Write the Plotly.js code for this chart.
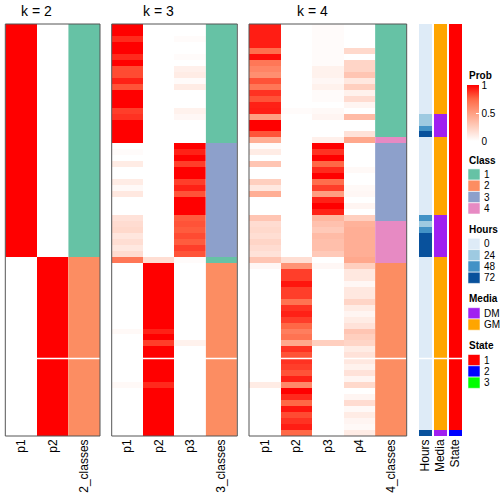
<!DOCTYPE html>
<html><head><meta charset="utf-8">
<script src="https://cdn.plot.ly/plotly-3.0.1.min.js"></script>
<style>html,body{margin:0;padding:0;background:#fff}#chart{width:504px;height:504px}</style>
</head><body><div id="chart"></div>
<script>
// ---------- data ----------
const k2_cols = ['p1','p2','2_classes'];
const k3_cols = ['p1','p2','p3','3_classes'];
const k4_cols = ['p1','p2','p3','p4','4_classes'];
const annoCols = ['Hours','Media','State'];

const k2_p1 = [1,1,1,1,1,1,1,1,1,1, 1,1,1,1,1,1,1,1,1,1, 1,1,1,1,1,1,1,1,1,1, 1,1,1,1,1,1,1,1,1,0, 0,0,0,0,0,0,0,0,0,0, 0,0,0,0,0,0,0,0,0,0, 0,0,0,0,0,0,0,0,0];
const k2_p2 = [0,0,0,0,0,0,0,0,0,0, 0,0,0,0,0,0,0,0,0,0, 0,0,0,0,0,0,0,0,0,0, 0,0,0,0,0,0,0,0,0,1, 1,1,1,1,1,1,1,1,1,1, 1,1,1,1,1,1,1,1,1,1, 1,1,1,1,1,1,1,1,1];
const k2_class = [1,1,1,1,1,1,1,1,1,1, 1,1,1,1,1,1,1,1,1,1, 1,1,1,1,1,1,1,1,1,1, 1,1,1,1,1,1,1,1,1,2, 2,2,2,2,2,2,2,2,2,2, 2,2,2,2,2,2,2,2,2,2, 2,2,2,2,2,2,2,2,2];

const k3_p1 = [1,1,0.9,1,1,0.9,1,0.82,0.82,0.92, 0.8,1,1,1,0.85,0.88,1,1,1,1, 0,0.02,0,0.1,0,0,0.1,0.03,0.12,0, 0,0,0.15,0.18,0.2,0.13,0.17,0.12,0.18,0.68, 0,0,0,0,0,0,0,0,0,0, 0,0.03,0,0,0,0,0,0,0,0, 0.03,0,0,0,0,0,0,0,0];
const k3_p2 = [0,0,0,0,0,0,0,0,0,0, 0,0,0,0,0,0,0,0,0,0, 0,0,0,0,0,0,0,0,0,0, 0,0,0,0,0,0,0,0,0,0.17, 1,1,1,1,1,1,1,1,1,1, 1,0.92,1,0.85,1,1,1,1,1,1, 0.9,1,1,1,1,1,1,1,1];
const k3_p3 = [0,0,0.02,0,0,0.02,0,0.08,0.1,0.02, 0.1,0,0,0,0.07,0.04,0,0,0,0, 1,0.92,1,0.85,1,1,0.85,0.92,0.8,1, 1,1,0.78,0.8,0.78,0.82,0.78,0.85,0.8,0.02, 0,0,0,0,0,0,0,0,0,0, 0,0,0,0.07,0,0,0,0,0,0, 0,0,0,0,0,0,0,0,0];
const k3_class = [1,1,1,1,1,1,1,1,1,1, 1,1,1,1,1,1,1,1,1,1, 3,3,3,3,3,3,3,3,3,3, 3,3,3,3,3,3,3,3,3,1, 2,2,2,2,2,2,2,2,2,2, 2,2,2,2,2,2,2,2,2,2, 2,2,2,2,2,2,2,2,2];

const k4_p1 = [0.93,0.93,0.93,0.93,0.72,0.97,0.68,0.62,0.57,0.8, 0.68,0.88,0.8,0.92,0.93,0.5,1,1,0.8,0.42, 0.02,0.1,0,0.3,0,0,0.25,0.12,0.42,0, 0,0,0.3,0.18,0.2,0.17,0.22,0.18,0.15,0.3, 0.04,0,0,0,0,0,0,0,0,0, 0,0,0,0,0,0,0,0,0,0, 0.1,0,0,0,0,0,0,0,0];
const k4_p2 = [0,0,0,0,0,0,0,0,0,0, 0,0,0,0,0.02,0,0,0,0,0, 0,0,0,0,0,0,0,0,0,0, 0,0,0,0,0,0,0,0,0,0.17, 0.55,0.85,0.85,0.95,0.85,0.85,0.7,0.88,0.92,0.85, 0.75,0.65,0.7,0.45,0.88,0.8,0.88,0.85,0.8,0.92, 0.6,1,0.9,0.75,0.95,0.82,0.88,0.93,0.75];
const k4_p3 = [0.02,0.02,0.02,0.02,0.02,0.02,0.02,0.07,0.07,0.04, 0.07,0.02,0.02,0,0.03,0.05,0,0,0,0.08, 1,0.88,1,0.75,0.9,1,0.72,0.85,0.5,0.92, 1,0.92,0.38,0.32,0.28,0.35,0.33,0.33,0.28,0, 0.04,0,0,0,0,0,0,0,0,0, 0,0,0,0.25,0,0,0,0,0,0, 0,0,0,0,0,0,0,0,0];
const k4_p4 = [0,0,0,0,0.2,0,0.22,0.22,0.3,0.12, 0.25,0.07,0.18,0.05,0,0.35,0,0,0.15,0.45, 0,0,0,0,0.03,0,0,0.03,0.04,0, 0.05,0,0.25,0.4,0.42,0.42,0.42,0.42,0.42,0.45, 0.25,0.12,0.12,0.04,0.12,0.12,0.22,0.1,0.05,0.1, 0.15,0.3,0.25,0.22,0.1,0.15,0.12,0.07,0.15,0.05, 0.2,0,0.05,0.18,0.03,0.1,0.05,0.03,0.1];
const k4_class = [1,1,1,1,1,1,1,1,1,1, 1,1,1,1,1,1,1,1,1,4, 3,3,3,3,3,3,3,3,3,3, 3,3,3,4,4,4,4,4,4,4, 2,2,2,2,2,2,2,2,2,2, 2,2,2,2,2,2,2,2,2,2, 2,2,2,2,2,2,2,2,2];

const hours = [0,0,0,0,0,0,0,0,0,0, 0,0,0,0,0,24,24,48,72,0, 0,0,0,0,0,0,0,0,0,0, 0,0,48,24,48,72,72,72,72,0, 0,0,0,0,0,0,0,0,0,0, 0,0,0,0,0,0,0,0,0,0, 0,0,0,0,0,0,0,0,72];
const media = ['GM','GM','GM','GM','GM','GM','GM','GM','GM','GM', 'GM','GM','GM','GM','GM','DM','DM','DM','DM','GM', 'GM','GM','GM','GM','GM','GM','GM','GM','GM','GM', 'GM','GM','DM','DM','DM','DM','DM','DM','DM','GM', 'GM','GM','GM','GM','GM','GM','GM','GM','GM','GM', 'GM','GM','GM','GM','GM','GM','GM','GM','GM','GM', 'GM','GM','GM','GM','GM','GM','GM','GM','DM'];
const state = ['1','1','1','1','1','1','1','1','1','1', '1','1','1','1','1','1','1','1','1','1', '1','1','1','1','1','1','1','1','1','1', '1','1','1','1','1','1','1','1','1','1', '1','1','1','1','1','1','1','1','1','1', '1','1','1','1','1','1','1','1','1','1', '1','1','1','1','1','1','1','1','2'];
const gapAfterRow = 55;

const classLevels = ['1','2','3','4'];
const classColors = ['#66C2A5','#FC8D62','#8DA0CB','#E78AC3'];
const hoursLevels = [0,24,48,72];
const hoursColors = ['#DEEBF7','#9ECAE1','#4292C6','#08519C'];
const mediaLevels = ['DM','GM'];
const mediaColors = ['#A020F0','#FFA500'];
const stateLevels = ['1','2','3'];
const stateColors = ['#FF0000','#0000FF','#00FF00'];
const probScale = [[0,'#FFFFFF'],[0.25,'#FFCFBF'],[0.5,'#FF9E81'],[0.75,'#FF6846'],[1,'#FF0000']];

// ---------- build ----------
const W = 504, H = 504;
const FONT = 'Liberation Sans, Arial, Helvetica, sans-serif';
const rows = k2_p1.map((_, i) => i);
function matrix(cols){ return rows.map(r => cols.map(c => c[r])); }
function stepScale(colors){ const n = colors.length, s = []; colors.forEach((c,i)=>{ s.push([i/n,c]); s.push([(i+1)/n,c]); }); return s; }

const traces = [];
const panels = [
  {ax:'x',  cols:k2_cols, probs:[k2_p1,k2_p2], cls:k2_class, title:'k = 2'},
  {ax:'x2', cols:k3_cols, probs:[k3_p1,k3_p2,k3_p3], cls:k3_class, title:'k = 3'},
  {ax:'x3', cols:k4_cols, probs:[k4_p1,k4_p2,k4_p3,k4_p4], cls:k4_class, title:'k = 4'}
];
panels.forEach(p => {
  traces.push({type:'heatmap', xaxis:p.ax, yaxis:'y', x0:0, dx:1, y0:0, dy:1,
    z:matrix(p.probs), coloraxis:'coloraxis', hoverinfo:'skip'});
  traces.push({type:'heatmap', xaxis:p.ax, yaxis:'y', x0:p.probs.length, dx:1, y0:0, dy:1,
    z:p.cls.map(v => [classLevels.indexOf(String(v))]), zmin:-0.5, zmax:classLevels.length-0.5,
    colorscale:stepScale(classColors), showscale:false, hoverinfo:'skip'});
});
[[hours,hoursLevels,hoursColors],[media,mediaLevels,mediaColors],[state,stateLevels,stateColors]].forEach(([vals,lv,cl],j) => {
  traces.push({type:'heatmap', xaxis:'x4', yaxis:'y', x0:j, dx:1, y0:0, dy:1,
    z:vals.map(v => [lv.indexOf(v)]), zmin:-0.5, zmax:lv.length-0.5, xgap:2,
    colorscale:stepScale(cl), showscale:false, hoverinfo:'skip'});
});

function xax(dom, cats){
  return {domain:[dom[0]/W, dom[1]/W], anchor:'y', type:'linear',
    tickvals:cats.map((_,i)=>i), ticktext:cats,
    range:[-0.5, cats.length-0.5], tickangle:-90, showgrid:false, zeroline:false, showline:false, ticks:'',
    tickfont:{size:12, family:FONT, color:'#000'}, fixedrange:true};
}

const shapes = [], annotations = [];
const axNames = ['x','x2','x3','x4'];
axNames.forEach((a,i) => {
  shapes.push({type:'line', xref:a+' domain', x0:0, x1:1, yref:'y', y0:gapAfterRow+0.5, y1:gapAfterRow+0.5,
    line:{color:'#FFFFFF', width:1.5}});
  if (i < 3) shapes.push({type:'rect', xref:a+' domain', yref:'y domain', x0:0, x1:1, y0:0, y1:1,
    line:{color:'#555555', width:1}});
});
panels.forEach(p => {
  annotations.push({xref:p.ax, x:(p.probs.length-1)/2, yref:'paper', y:1-11/H, yanchor:'middle',
    text:p.title, showarrow:false, font:{size:14, family:FONT, color:'#000'}});
});

// legends
const px = x => x/W, py = y => 1 - y/H;
annotations.push({xref:'paper', yref:'paper', x:px(467), y:py(75), xanchor:'left', yanchor:'middle',
  text:'<b>Prob</b>', showarrow:false, font:{size:10, family:FONT, color:'#000'}});
let ly = 160;
[['Class',classLevels,classColors],['Hours',hoursLevels,hoursColors],['Media',mediaLevels,mediaColors],['State',stateLevels,stateColors]].forEach(([title,lv,cl]) => {
  annotations.push({xref:'paper', yref:'paper', x:px(467), y:py(ly), xanchor:'left', yanchor:'middle',
    text:'<b>'+title+'</b>', showarrow:false, font:{size:10, family:FONT, color:'#000'}});
  let cy = ly + 14.5;
  lv.forEach((l,i) => {
    shapes.push({type:'rect', xref:'paper', yref:'paper', x0:px(468), x1:px(480), y0:py(cy+5.6), y1:py(cy-5.6),
      fillcolor:cl[i], line:{color:'rgba(255,255,255,0.7)', width:0.8}});
    annotations.push({xref:'paper', yref:'paper', x:px(482), y:py(cy), xanchor:'left', yanchor:'middle',
      text:String(l), showarrow:false, font:{size:10, family:FONT, color:'#000'}});
    cy += 11.3;
  });
  ly = cy - 11.3 + 21;
});

const layout = {
  width:W, height:H, margin:{l:0,r:0,t:0,b:0}, paper_bgcolor:'#FFFFFF', plot_bgcolor:'#FFFFFF',
  font:{family:FONT, size:12, color:'#000'}, showlegend:false,
  xaxis: xax([5.3,100], k2_cols),
  xaxis2: xax([111.7,237.3], k3_cols),
  xaxis3: xax([249,406.7], k4_cols),
  xaxis4: xax([418,463], annoCols),
  yaxis: {domain:[1-436/H, 1-24/H], range:[rows.length-0.5, -0.5], showticklabels:false, showgrid:false,
    zeroline:false, showline:false, ticks:'', fixedrange:true},
  coloraxis: {cmin:0, cmax:1, colorscale:probScale, colorbar:{x:px(467), xanchor:'left', y:py(85), yanchor:'top',
    len:56, lenmode:'pixels', thickness:12, thicknessmode:'pixels', xpad:0, ypad:0, outlinewidth:0,
    tickvals:[0,0.5,1], ticktext:['0','0.5','1'], ticks:'inside', ticklen:3, tickcolor:'#FFFFFF',
    tickfont:{size:10, family:FONT, color:'#000'}}},
  shapes, annotations
};
Plotly.newPlot('chart', traces, layout, {staticPlot:true, displayModeBar:false});
</script></body></html>
